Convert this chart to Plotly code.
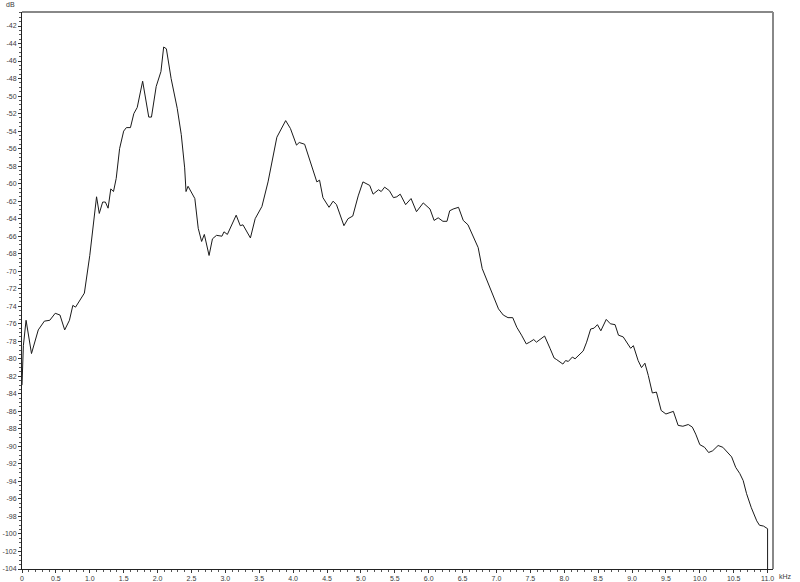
import plotly.graph_objects as go

# Spectrum (kHz, dB)
freq_khz = [0.0, 0.02, 0.06, 0.14, 0.24, 0.33, 0.41, 0.49, 0.56, 0.63, 0.70, 0.75, 0.79, 0.92,
            1.00, 1.06, 1.10, 1.14, 1.19, 1.23, 1.27, 1.31, 1.35, 1.39, 1.44, 1.50, 1.54, 1.60,
            1.65, 1.70, 1.78, 1.87, 1.91, 1.98, 2.05, 2.09, 2.13, 2.20, 2.29, 2.35, 2.40, 2.42,
            2.45, 2.55, 2.60, 2.65, 2.69, 2.76, 2.81, 2.87, 2.95, 2.98, 3.03, 3.16, 3.22, 3.26,
            3.37, 3.44, 3.54, 3.63, 3.76, 3.89, 3.96, 4.05, 4.09, 4.17, 4.27, 4.35, 4.39, 4.44,
            4.53, 4.59, 4.64, 4.75, 4.81, 4.88, 4.96, 5.03, 5.13, 5.18, 5.26, 5.30, 5.35, 5.42,
            5.48, 5.53, 5.58, 5.66, 5.74, 5.82, 5.92, 6.02, 6.08, 6.14, 6.21, 6.27, 6.31, 6.36,
            6.44, 6.51, 6.58, 6.66, 6.73, 6.79, 6.88, 6.95, 7.03, 7.10, 7.17, 7.24, 7.30, 7.37,
            7.44, 7.49, 7.55, 7.59, 7.71, 7.79, 7.85, 7.89, 7.98, 8.02, 8.06, 8.12, 8.16, 8.28,
            8.33, 8.39, 8.44, 8.49, 8.54, 8.62, 8.68, 8.75, 8.80, 8.87, 8.93, 8.98, 9.02, 9.09,
            9.14, 9.19, 9.24, 9.30, 9.36, 9.43, 9.50, 9.56, 9.61, 9.68, 9.75, 9.83, 9.89, 9.94,
            10.00, 10.07, 10.13, 10.19, 10.27, 10.34, 10.39, 10.47, 10.53, 10.59, 10.64, 10.69,
            10.76, 10.84, 10.88, 10.94, 11.0, 11.0]

level_db = [-83.0, -78.5, -75.6, -79.4, -76.7, -75.7, -75.6, -74.8, -75.0, -76.7, -75.6, -73.9, -74.1, -72.5,
            -68.2, -64.0, -61.5, -63.4, -62.1, -62.1, -62.8, -60.6, -60.9, -59.4, -56.0, -54.0, -53.6, -53.6,
            -52.0, -51.3, -48.3, -52.4, -52.4, -48.9, -47.2, -44.4, -44.6, -48.0, -51.4, -54.4, -58.2, -60.9,
            -60.3, -61.7, -65.1, -66.6, -65.8, -68.2, -66.3, -65.9, -66.0, -65.5, -65.8, -63.6, -64.8, -64.7,
            -66.2, -64.0, -62.6, -59.8, -54.7, -52.8, -53.7, -55.6, -55.3, -55.5, -57.9, -59.8, -59.6, -61.6,
            -62.7, -62.0, -62.4, -64.8, -64.0, -63.7, -61.4, -59.8, -60.2, -61.2, -60.7, -60.9, -60.4, -60.8,
            -61.6, -61.5, -61.2, -62.4, -61.7, -63.2, -62.2, -62.9, -64.2, -63.9, -64.3, -64.3, -63.1, -62.9,
            -62.7, -64.2, -64.7, -66.1, -67.3, -69.7, -71.4, -72.7, -74.3, -75.0, -75.3, -75.3, -76.4, -77.3,
            -78.3, -78.1, -77.8, -78.1, -77.4, -78.8, -79.9, -80.1, -80.6, -80.2, -80.3, -79.8, -80.0, -79.1,
            -78.1, -76.6, -76.5, -76.1, -76.8, -75.5, -76.0, -76.1, -77.3, -77.5, -78.3, -78.8, -78.5, -80.2,
            -81.0, -80.5, -81.9, -83.9, -83.8, -85.9, -86.3, -86.1, -86.0, -87.6, -87.7, -87.5, -87.8, -88.6,
            -89.8, -90.1, -90.7, -90.5, -89.9, -90.1, -90.5, -91.2, -92.4, -93.1, -93.9, -95.4,
            -97.0, -98.5, -99.0, -99.1, -99.4, -104.0]

x_ticks = [i * 0.5 for i in range(23)]
x_labels = ["0"] + [f"{v:.1f}" for v in x_ticks[1:]]
y_ticks = list(range(-42, -105, -2))

FONT = "Liberation Sans, Arial, sans-serif"
TEXT = "#3a3a3a"

fig = go.Figure()
fig.add_trace(go.Scatter(
    x=freq_khz, y=level_db, mode="lines",
    line=dict(color="#1a1a1a", width=1),
    showlegend=False, hoverinfo="skip",
))

fig.update_layout(
    width=800, height=582,
    margin=dict(l=22, r=27, t=12, b=13),
    plot_bgcolor="white", paper_bgcolor="white",
    font=dict(family=FONT, size=7, color=TEXT),
    xaxis=dict(
        range=[0, 11.08], showgrid=False, zeroline=False, automargin=False,
        showline=True, linecolor="#222222", linewidth=1,
        tickmode="array", tickvals=x_ticks, ticktext=x_labels,
        ticks="outside", ticklen=3, tickcolor="#333333",
        minor=dict(dtick=0.1, ticks="outside", ticklen=2, tickcolor="#555555"),
        tickfont=dict(size=7, color=TEXT),
    ),
    yaxis=dict(
        range=[-104, -40.4], showgrid=False, zeroline=False, automargin=False,
        showline=True, linecolor="#222222", linewidth=1,
        tickmode="array", tickvals=y_ticks, ticktext=[str(v) for v in y_ticks],
        ticks="outside", ticklen=3, tickcolor="#333333",
        minor=dict(dtick=0.5, ticks="outside", ticklen=2, tickcolor="#555555"),
        tickfont=dict(size=7, color=TEXT),
    ),
    shapes=[
        dict(type="line", xref="paper", yref="paper", x0=0, x1=1, y0=1, y1=1,
             line=dict(color="#888888", width=2)),
        dict(type="line", xref="paper", yref="paper", x0=1, x1=1, y0=0, y1=1,
             line=dict(color="#888888", width=2)),
    ],
    annotations=[
        dict(text="dB", xref="paper", yref="paper", x=-0.006, y=1.0, yshift=8,
             xanchor="right", yanchor="middle", showarrow=False,
             font=dict(size=7, color=TEXT)),
        dict(text="kHz", xref="x", yref="paper", x=11.0, y=0, xshift=9, yshift=-7,
             xanchor="left", yanchor="middle", showarrow=False,
             font=dict(size=7, color=TEXT)),
    ],
)

# drop the browser's default 8px body margin so the figure sits at the window corner
fig.write_html("out.html", config={"displayModeBar": False},
               post_script="document.body.style.margin='0';")
